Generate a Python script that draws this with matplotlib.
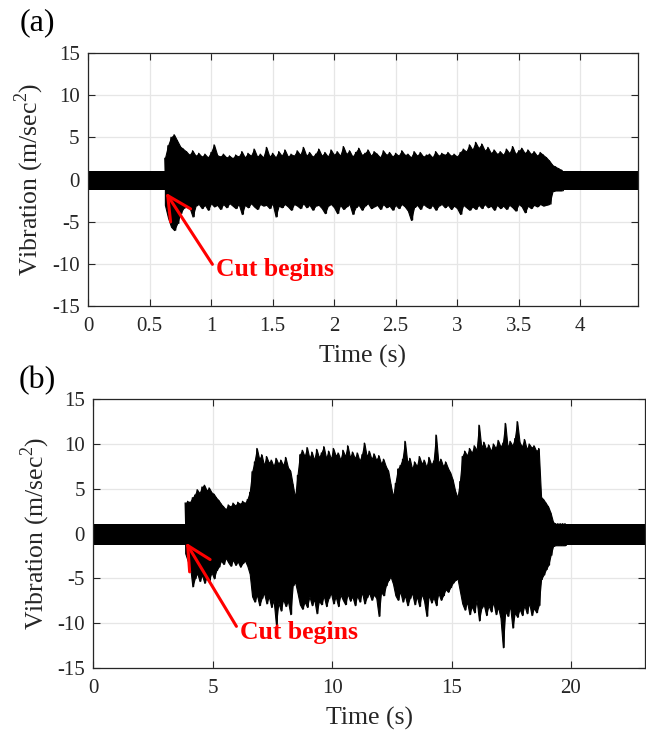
import numpy as np
import matplotlib
matplotlib.use("Agg")
import matplotlib.pyplot as plt
from matplotlib.ticker import FuncFormatter

plt.rcParams["font.family"] = ["Liberation Serif", "DejaVu Serif"]
plt.rcParams["mathtext.fontset"] = "custom"
plt.rcParams["mathtext.rm"] = "Liberation Serif"
plt.rcParams["axes.unicode_minus"] = False

# ---- panel (a): envelope of the vibration signal ----
a_xmax = 4.47
a_base_hi, a_base_lo = 1.05, -1.3      # idle band before/after the cut
a_t0, a_dt = 0.625, 0.025              # envelope sample start / spacing (s)
a_upper = [
    2.5, 4.0, 5.0, 5.3, 4.6, 3.9, 3.6, 3.3, 2.9, 3.4,
    2.8, 3.1, 2.7, 3.0, 2.6, 3.2, 4.1, 2.9, 2.7, 3.0,
    2.6, 2.8, 2.5, 2.9, 2.7, 3.3, 2.6, 3.1, 2.8, 3.6,
    2.7, 3.0, 2.6, 3.8, 2.7, 3.1, 2.6, 3.3, 2.8, 3.5,
    2.7, 3.0, 2.8, 3.4, 2.9, 3.8, 2.8, 3.2, 2.7, 3.0,
    3.6, 2.8, 3.2, 2.7, 3.5, 2.9, 3.3, 2.8, 3.9, 3.0,
    3.4, 2.7, 3.2, 3.7, 2.9, 3.1, 3.5, 2.8, 3.3, 3.0,
    2.6, 3.4, 2.9, 3.2, 2.7, 3.1, 2.8, 3.4, 2.9, 3.0,
    2.6, 3.3, 2.8, 3.2, 2.7, 2.9, 3.0, 2.6, 3.3, 2.8,
    3.1, 2.9, 3.2, 2.8, 3.0, 2.7, 3.2, 3.6, 3.3, 4.1,
    3.5, 4.4, 3.7, 4.2, 3.4, 3.8, 3.1, 3.5, 3.0, 3.3,
    2.9, 3.6, 3.1, 3.9, 3.0, 3.4, 3.7, 3.1, 3.5, 3.0,
    3.3, 2.8, 3.2, 2.9, 2.6, 2.2, 1.7, 1.5, 1.3, 1.1,
]
a_lower = [
    -3.0, -4.5, -5.6, -6.0, -5.2, -4.0, -3.4, -3.0, -3.3, -4.4,
    -3.1, -2.9, -3.4, -3.0, -3.6, -2.8, -3.2, -3.0, -3.5, -2.9,
    -3.3, -2.8, -3.1, -3.4, -2.9, -4.1, -3.0, -3.3, -2.8, -3.2,
    -3.5, -2.9, -3.1, -3.0, -3.4, -2.8, -4.4, -3.1, -3.3, -2.9,
    -3.2, -3.6, -2.9, -3.1, -3.4, -2.8, -3.3, -3.0, -3.6, -3.1,
    -3.0, -3.4, -4.0, -3.1, -2.9, -3.3, -4.0, -3.0, -3.5, -3.2,
    -2.9, -4.1, -3.3, -3.0, -3.6, -3.1, -2.8, -3.4, -3.2, -3.0,
    -3.5, -2.9, -3.3, -3.1, -3.6, -3.0, -3.4, -2.9, -3.2, -3.7,
    -4.8, -3.3, -3.0, -3.5, -2.9, -3.2, -3.4, -3.0, -3.6, -3.1,
    -2.9, -3.3, -3.0, -3.5, -3.1, -3.4, -4.1, -3.0, -3.3, -3.6,
    -3.2, -3.5, -3.0, -3.4, -2.9, -3.3, -3.1, -3.6, -3.0, -3.4,
    -3.1, -3.5, -3.0, -3.3, -3.7, -2.9, -3.2, -3.9, -3.1, -3.4,
    -3.0, -3.2, -2.9, -3.1, -3.0, -2.9, -1.4, -1.3, -1.3, -1.3,
]
a_xticks = [0, 0.5, 1, 1.5, 2, 2.5, 3, 3.5, 4]
a_tip = (0.633, -1.57)
a_text = (1.04, -10.7)

# ---- panel (b) ----
b_xmax = 23.1
b_base_hi, b_base_lo = 1.05, -1.26
b_t0, b_dt = 3.85, 0.1
b_upper = [
    3.4, 3.6, 3.5, 4.0, 4.3, 4.9, 4.5, 5.2, 5.4, 4.8,
    5.1, 4.6, 4.4, 4.0, 3.7, 3.3, 3.0, 2.7, 3.2, 3.0,
    3.4, 3.1, 3.5, 3.3, 3.6, 3.4, 3.8, 4.6, 6.9, 8.0,
    9.5, 8.3, 8.8, 7.6, 8.6, 7.9, 8.2, 7.5, 8.4, 7.8,
    8.2, 7.6, 8.5, 7.4, 7.0, 5.5, 4.0, 6.5, 8.8, 9.3,
    8.6, 9.6, 8.4, 9.1, 8.2, 9.4, 8.5, 9.0, 9.7, 8.4,
    9.2, 8.3, 9.5, 8.7, 9.0, 8.2, 9.3, 8.6, 9.8, 8.5,
    9.1, 8.4, 9.0, 8.1, 8.8, 10.1, 8.6, 9.2, 8.3, 8.9,
    8.2, 8.7, 7.8, 8.3, 7.5, 7.0, 5.5, 4.1, 5.6, 7.2,
    7.6, 8.3, 10.3, 7.9, 8.4, 7.2, 8.0, 7.5, 8.6, 7.8,
    8.2, 7.4, 8.5, 7.7, 8.1, 11.0, 7.9, 8.3, 7.5, 8.0,
    7.3, 6.8, 6.0, 4.8, 4.0, 5.8, 8.6, 9.2, 8.7, 9.5,
    9.0, 9.8, 9.3, 12.1, 9.6, 10.2, 9.4, 9.9, 9.2, 10.0,
    9.5, 10.4, 9.7, 10.1, 12.3, 9.6, 10.3, 9.8, 10.6, 12.5,
    10.2, 9.7, 10.5, 9.4, 10.0, 9.6, 9.8, 9.2, 9.5, 4.1,
    3.8, 3.4, 3.0, 2.3, 1.3, 1.1, 1.1, 1.1, 1.1, 1.1,
]
b_lower = [
    -2.2, -3.0, -3.6, -5.9, -5.0, -4.4, -5.3, -4.6, -5.5, -4.8,
    -5.2, -4.3, -5.0, -4.1, -3.7, -3.0, -3.4, -2.7, -3.2, -3.6,
    -2.9, -3.5, -3.1, -3.7, -3.3, -3.0, -3.6, -4.5, -7.0, -7.6,
    -6.8, -8.0, -7.2, -6.6, -7.8, -7.0, -8.2, -7.4, -10.2, -7.7,
    -8.6, -7.3, -8.1, -7.5, -9.0, -5.8, -5.4, -6.6, -7.9, -8.4,
    -7.6, -8.2, -7.0, -8.0, -7.3, -8.9, -7.5, -7.9, -6.9, -8.1,
    -7.2, -6.6, -7.8, -7.0, -8.1, -6.8, -7.4, -7.9, -6.7, -7.5,
    -7.0, -8.0, -6.9, -7.6, -6.5, -7.8, -7.1, -6.6, -7.4, -6.8,
    -7.2, -9.2, -6.5, -6.9, -5.8, -5.2, -4.8, -5.6, -6.9, -7.4,
    -6.4, -7.6, -6.9, -8.0, -7.2, -6.6, -7.9, -7.0, -8.1, -6.7,
    -7.5, -9.2, -6.8, -7.7, -7.1, -8.0, -6.6, -7.4, -6.9, -6.2,
    -6.5, -6.0, -5.5, -5.2, -5.0, -6.4, -7.8, -8.5, -7.6, -9.0,
    -8.1, -8.8, -7.4, -9.7, -8.3, -7.9, -9.1, -8.0, -8.7, -7.6,
    -9.0, -8.2, -9.4, -12.7, -8.6, -9.2, -8.0, -10.5, -8.8, -9.3,
    -8.4, -9.1, -8.0, -8.9, -7.7, -9.1, -8.3, -8.8, -8.0, -5.1,
    -4.6, -4.0, -3.5, -2.4, -1.4, -1.3, -1.3, -1.3, -1.3, -1.3,
]
b_xticks = [0, 5, 10, 15, 20]
b_tip = (3.88, -1.0)
b_text = (6.14, -11.0)

yticks = [-15, -10, -5, 0, 5, 10, 15]


def draw_panel(ax, xmax, base_hi, base_lo, t0, dt, upper, lower, xticks, tip, text_xy):
    t = t0 + dt * np.arange(len(upper))
    # idle band
    ax.fill_between([0, xmax], [base_lo, base_lo], [base_hi, base_hi],
                    color="black", lw=0)
    # signal body between the upper and lower envelope samples
    ax.fill_between(t, lower, upper, color="black", lw=0.8, edgecolor="black")
    # fine swings between the envelopes give the spiky edge
    tz = np.column_stack([t, t + dt / 2]).ravel()
    yz = np.column_stack([upper, lower]).ravel()
    ax.plot(tz, yz, color="black", lw=1.0)

    ax.set_xlim(0, xmax)
    ax.set_ylim(-15, 15)
    ax.set_xticks(xticks)
    ax.set_yticks(yticks)
    ax.xaxis.set_major_formatter(FuncFormatter(lambda v, p: "%g" % v))
    ax.tick_params(direction="in", top=True, right=True, length=5, width=0.8,
                   labelsize=15, colors="#262626")
    ax.tick_params(axis="x", pad=8)
    ax.tick_params(axis="y", pad=6)
    for sp in ax.spines.values():
        sp.set_color("#262626")
        sp.set_linewidth(0.9)
    ax.grid(True, color="#e6e6e6", linewidth=0.9)
    ax.set_axisbelow(True)
    ax.set_xlabel("Time (s)", fontsize=18.5, color="#262626", labelpad=6)
    ax.set_ylabel("Vibration (m/sec$^2$)", fontsize=18.5, color="#262626", labelpad=4)

    ax.annotate("Cut begins", xy=tip, xytext=text_xy, textcoords="data",
                ha="left", va="center", color="red", fontsize=18.5, fontweight="bold",
                arrowprops=dict(arrowstyle="->,head_length=0.85,head_width=0.43",
                                color="red", lw=2.2, mutation_scale=20,
                                shrinkA=1, shrinkB=0, relpos=(0, 0.5)))


fig = plt.figure(figsize=(6.46, 7.33), dpi=100)
ax_a = fig.add_axes([0.1362, 0.5825, 0.8514, 0.3452])
ax_b = fig.add_axes([0.1444, 0.0887, 0.8540, 0.3666])

draw_panel(ax_a, a_xmax, a_base_hi, a_base_lo, a_t0, a_dt, a_upper, a_lower,
           a_xticks, a_tip, a_text)
draw_panel(ax_b, b_xmax, b_base_hi, b_base_lo, b_t0, b_dt, b_upper, b_lower,
           b_xticks, b_tip, b_text)

fig.text(37 / 646, 1 - 23 / 733, "(a)", fontsize=23, ha="center", va="center")
fig.text(37 / 646, 1 - 381 / 733, "(b)", fontsize=23, ha="center", va="center")

fig.savefig("out.png", dpi=100)
